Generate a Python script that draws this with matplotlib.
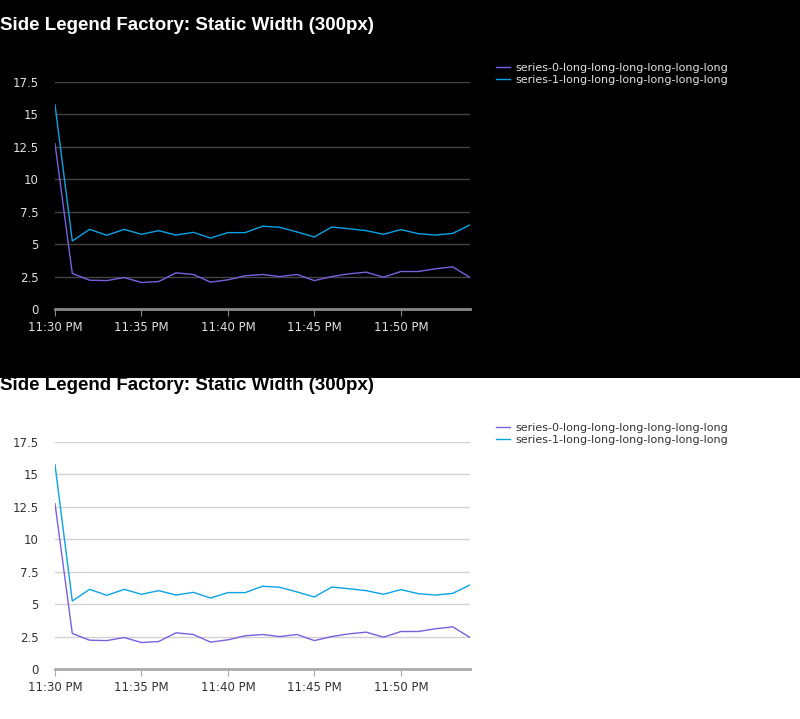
import matplotlib
matplotlib.use("Agg")
import matplotlib.pyplot as plt
from matplotlib.patches import Rectangle

minutes = list(range(25))
tick_minutes = [0, 5, 10, 15, 20]
tick_labels = ["11:30 PM", "11:35 PM", "11:40 PM", "11:45 PM", "11:50 PM"]
y_ticks = [0, 2.5, 5, 7.5, 10, 12.5, 15, 17.5]
y_labels = ["0", "2.5", "5", "7.5", "10", "12.5", "15", "17.5"]
series_0 = [12.75, 2.74, 2.22, 2.19, 2.43, 2.04, 2.12, 2.79, 2.66, 2.07, 2.25, 2.56, 2.66,
            2.5, 2.66, 2.19, 2.5, 2.71, 2.84, 2.45, 2.89, 2.89, 3.1, 3.25, 2.43]
series_1 = [15.75, 5.24, 6.14, 5.68, 6.14, 5.76, 6.04, 5.7, 5.91, 5.47, 5.89, 5.89, 6.38,
            6.3, 5.94, 5.55, 6.32, 6.19, 6.04, 5.76, 6.12, 5.81, 5.7, 5.83, 6.48]
names = ["series-0-long-long-long-long-long-long", "series-1-long-long-long-long-long-long"]
colors = ["#7b5fe0", "#0aa3e6"]
title = "Side Legend Factory: Static Width (300px)"

W, H = 800, 719
fig = plt.figure(figsize=(W / 100, H / 100), dpi=100)
fig.patch.set_facecolor("white")
fig.patches.append(Rectangle((0, (H - 378) / H), 1, 378 / H, transform=fig.transFigure,
                             facecolor="black", zorder=-10))


def panel(top, dark):
    fg = "white" if dark else "black"
    txt = "#e0e0e0" if dark else "#333333"
    grid = "#444444" if dark else "#d2d2d2"
    axis = "#888888" if dark else "#aaaaaa"
    fig.text(0, 1 - (top + 30) / H, title, fontsize=13.5, fontweight="bold",
             color=fg, family="Liberation Sans", va="baseline")
    y0, y1 = top + 82, top + 309
    ax = fig.add_axes([55 / W, (H - y1) / H, 415 / W, (y1 - y0) / H])
    ax.set_facecolor("none")
    lines = []
    for s, c in zip([series_0, series_1], colors):
        lines += ax.plot(minutes, s, color=c, lw=1)
    ax.set_xlim(0, 24)
    ax.set_ylim(0, 17.5)
    ax.set_yticks(y_ticks)
    ax.set_yticklabels(y_labels)
    ax.set_xticks(tick_minutes)
    ax.set_xticklabels(tick_labels)
    ax.grid(axis="y", color=grid, lw=1)
    for sp in ["top", "right", "left"]:
        ax.spines[sp].set_visible(False)
    ax.spines["bottom"].set_color(axis)
    ax.spines["bottom"].set_linewidth(2)
    ax.tick_params(axis="y", length=0, pad=12, labelsize=8.5, labelcolor=txt)
    ax.tick_params(axis="x", length=5, color=axis, labelsize=8.5, labelcolor=txt)
    ax.set_axisbelow(True)
    leg = fig.legend(lines, names, loc="upper left",
                     bbox_to_anchor=(490 / W, 1 - (top + 57) / H), frameon=False,
                     fontsize=8, handlelength=1.3, handletextpad=0.5,
                     labelspacing=0.2, borderpad=0)
    for t in leg.get_texts():
        t.set_color(txt)


panel(0, True)
panel(360, False)

fig.savefig("out.png", dpi=100)
